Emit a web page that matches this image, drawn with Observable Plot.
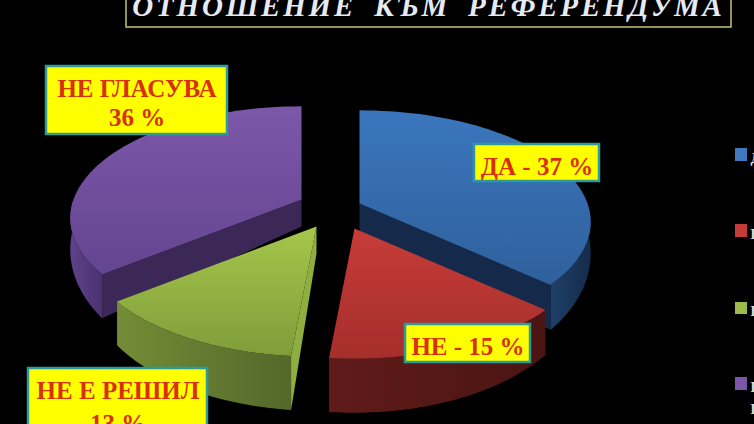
<!DOCTYPE html>
<html><head><meta charset="utf-8">
<script src="https://cdn.jsdelivr.net/npm/d3@7"></script>
<script src="https://cdn.jsdelivr.net/npm/@observablehq/plot@0.6"></script>
<style>
html,body{margin:0;padding:0;background:#000;overflow:hidden}
svg{display:block}
.ttl text{letter-spacing:2.8px;word-spacing:8px}
</style></head><body><div id="c"></div>
<script>
const categories = ["ДА", "НЕ", "НЕ Е РЕШИЛ", "НЕ ГЛАСУВА"];
const shares = [37, 15, 13, 36];
const titleText = "ОТНОШЕНИЕ КЪМ РЕФЕРЕНДУМА";
const legendLines = [["ДА"], ["НЕ"], ["НЕ Е РЕШИЛ"], ["НЕ", "ГЛАСУВА"]];
const labelLines = [["ДА - 37 %"], ["НЕ - 15 %"], ["НЕ Е РЕШИЛ", "13 %"], ["НЕ ГЛАСУВА", "36 %"]];

// layout
const apex = [[359,203],[354,228],[316,226],[301,199]];
const RX = 228, RY = 108.6, K = 0.166, DEPTH = 27;
const boxes = [[474,144,599,181],[405,324,530,362],[28,368,207,440],[46,66,227,134]];
const lineY = [[174],[354],[398,431],[96,125]];
const legendBox = [[148,161],[224,237],[302,314],[377,390]];
const tops = [["#3b76bd","#2f609c"],["#c73c38","#a52e2b"],["#a6c64c","#7f9d3a"],["#7c57a9","#644590"]];
const outers = [["#1f4068","#142b4a"],["#601b19","#4a1513"],["#748c36","#54682a"],["#5f4289","#4a3270"]];
const cuts = ["#15294a","#5a1a18","#8fae40","#3b2856"];
const legendFill = ["#3f78bd","#c43c38","#9dbb48","#7c57a9"];

const total = d3.sum(shares);
const cum = d3.cumsum(shares);
const ang = i => [(i ? cum[i-1] : 0), cum[i]].map(v => v / total * 2 * Math.PI);
const pt = (i, t, low) => {
  const u = Math.sin(t), v = Math.cos(t), s = 1 / (1 + K * v);
  return {x: apex[i][0] + RX * u * s, y: apex[i][1] - RY * v * s + (low ? DEPTH * (1 - v) : 0)};
};
const ctr = (i, low) => ({x: apex[i][0], y: apex[i][1] + (low ? DEPTH : 0)});
const arc = (i, a, b, low) => {
  const n = 60, o = [];
  for (let k = 0; k <= n; k++) o.push(pt(i, a + (b - a) * k / n, low));
  return o;
};
const topShape = i => { const [a,b] = ang(i); return [ctr(i), ...arc(i,a,b)]; };
const outerShape = (i, a, b) => [...arc(i,a,b), ...arc(i,b,a,true)];
const cutShape = (i, t) => [ctr(i), pt(i,t), pt(i,t,true), ctr(i,true)];

const shape = (pts, fill) => Plot.line(pts, {x:"x", y:"y", fill, stroke:"none"});
const gradients = () => {
  const ns = "http://www.w3.org/2000/svg";
  const defs = document.createElementNS(ns, "defs");
  const add = (id, [c1, c2], x2, y2) => {
    const g = document.createElementNS(ns, "linearGradient");
    g.setAttribute("id", id); g.setAttribute("x1",0); g.setAttribute("y1",0);
    g.setAttribute("x2",x2); g.setAttribute("y2",y2);
    [[0,c1],[1,c2]].forEach(([o,c]) => {
      const s = document.createElementNS(ns, "stop");
      s.setAttribute("offset",o); s.setAttribute("stop-color",c); g.appendChild(s);
    });
    defs.appendChild(g);
  };
  tops.forEach((c,i) => add("top"+i, c, 0, 1));
  outers.forEach((c,i) => add("out"+i, c, 1, 0));
  return defs;
};

const marks = [gradients];
// purple (back left)
{ const i = 3, [a,b] = ang(i);
  marks.push(shape(outerShape(i, a, 1.5*Math.PI), "url(#out3)"), shape(cutShape(i,a), cuts[i]), shape(topShape(i), "url(#top3)")); }
// blue (back right)
{ const i = 0, [a,b] = ang(i);
  marks.push(shape(outerShape(i, 0.5*Math.PI, b), "url(#out0)"), shape(cutShape(i,b), cuts[i]), shape(topShape(i), "url(#top0)")); }
// green (front left)
{ const i = 2, [a,b] = ang(i);
  marks.push(shape(cutShape(i,a), cuts[i]), shape(outerShape(i,a,b), "url(#out2)"), shape(topShape(i), "url(#top2)")); }
// red (front right)
{ const i = 1, [a,b] = ang(i);
  marks.push(shape(outerShape(i,a,b), "url(#out1)"), shape(topShape(i), "url(#top1)")); }

const serif = "Liberation Serif";
// title
marks.push(Plot.rect([{x1:126,x2:731,y1:-6,y2:27}], {x1:"x1",x2:"x2",y1:"y1",y2:"y2",fill:"#000",stroke:"#c8c468",strokeWidth:1.5}));
marks.push(Plot.text([titleText], {x:()=>428,y:()=>15,text:d=>d,fill:"#e6eaf4",fontFamily:serif,fontWeight:"bold",fontStyle:"italic",fontSize:29,lineAnchor:"bottom",className:"ttl"}));
// value labels
categories.forEach((c,i) => {
  const [x1,y1,x2,y2] = boxes[i];
  marks.push(Plot.rect([{x1,x2,y1,y2}], {x1:"x1",x2:"x2",y1:"y1",y2:"y2",fill:"#ffff00",stroke:"#2f9a9a",strokeWidth:2.5}));
  labelLines[i].forEach((t,k) => {
    marks.push(Plot.text([t], {x:()=>(x1+x2)/2,y:()=>lineY[i][k],text:d=>d,fill:"#d9300a",fontFamily:serif,fontWeight:"bold",fontSize:25,lineAnchor:"bottom"}));
  });
  // legend
  marks.push(Plot.rect([{x1:735,x2:747,y1:legendBox[i][0],y2:legendBox[i][1]}], {x1:"x1",x2:"x2",y1:"y1",y2:"y2",fill:legendFill[i]}));
  legendLines[i].forEach((t,k) => {
    marks.push(Plot.text([t], {x:()=>750,y:()=>legendBox[i][1]+1+k*22,text:d=>d,fill:"#ddd",fontFamily:serif,fontWeight:"bold",fontSize:14,textAnchor:"start",lineAnchor:"bottom"}));
  });
});

const chart = Plot.plot({
  width:754, height:424, margin:0,
  x:{domain:[0,754],range:[0,754],axis:null},
  y:{domain:[0,424],range:[0,424],axis:null},
  style:{background:"#000",color:"#fff"},
  marks
});
document.getElementById("c").appendChild(chart);
</script></body></html>
